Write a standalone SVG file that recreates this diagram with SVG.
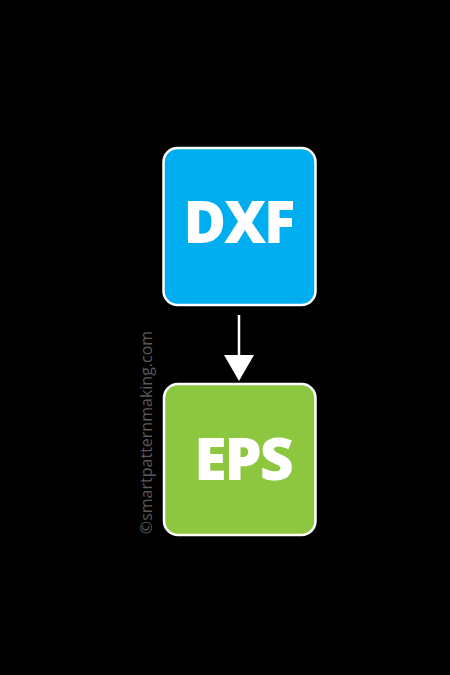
<svg xmlns="http://www.w3.org/2000/svg" width="450" height="675" viewBox="0 0 450 675">
<style>
.box{stroke:#fff;stroke-width:2.5}
.lbl{font-family:"Open Sans","DejaVu Sans",sans-serif;font-weight:800;fill:#fff;text-anchor:middle}
.wm{font-family:"Open Sans","DejaVu Sans",sans-serif;font-size:16px;fill:#5a5a5a;text-anchor:middle}
</style>
<rect width="450" height="675" fill="#000"/>
<g id="dxf">
<rect class="box" x="163.5" y="148" width="152" height="157" rx="14" fill="#00aeef"/>
<text class="lbl" x="238.5" y="243" font-size="58" letter-spacing="-2">DXF</text>
</g>
<g id="eps">
<rect class="box" x="164" y="384" width="151.5" height="151" rx="14" fill="#8dc63f"/>
<text class="lbl" x="243" y="480" font-size="59" letter-spacing="-2">EPS</text>
</g>
<g id="connectors">
<line x1="239" y1="315" x2="239" y2="357" stroke="#fff" stroke-width="2.5"/>
<polygon points="224,355 254,355 239,381" fill="#fff"/>
</g>
<text class="wm" transform="translate(152,432.5) rotate(-90)">©smartpatternmaking.com</text>
</svg>
